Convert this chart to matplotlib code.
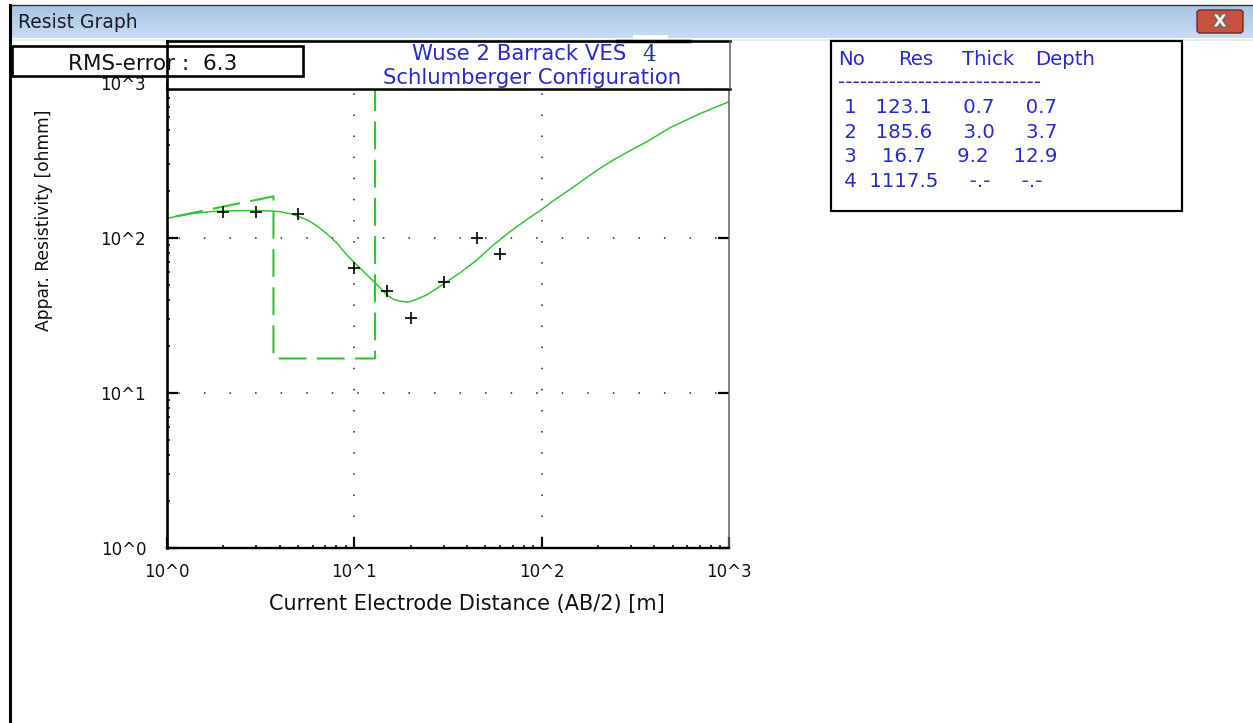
import numpy as np
import matplotlib
matplotlib.use('Agg')
import matplotlib.pyplot as plt
import matplotlib.patheffects as pe
from matplotlib.patches import Rectangle, FancyBboxPatch
from matplotlib.colors import LinearSegmentedColormap
from matplotlib.ticker import FixedLocator, FuncFormatter, LogLocator, NullFormatter

# field data (AB/2 in m, apparent resistivity in ohm-m)
ab2_obs = [2, 3, 5, 10, 15, 20, 30, 45, 60]
rho_obs = [147, 147, 143, 64, 45.5, 30.3, 52, 100, 79]

# computed model curve
ab2_model = [1.0, 1.17, 1.38, 1.7, 2.0, 2.45, 3.0, 3.55, 4.0, 4.7, 5.6, 6.3, 7.1,
             8.05, 9.1, 10.3, 11.65, 13.2, 14.9, 16.2, 17.5, 19.4, 21.5, 24.4,
             29.9, 36.7, 45, 55.2, 67.8, 82.2, 98, 115.5, 141.8, 167, 205, 241.5,
             296.5, 364, 485, 701, 1000]
rho_model = [134, 139, 144, 148, 149.5, 150, 150, 149.5, 148, 142, 131, 120, 107,
             93, 78, 67, 58, 50, 43, 40.2, 39.1, 38.6, 40.2, 43,
             50.5, 59.7, 72, 90, 110, 130, 150, 174, 206, 237, 282, 319,
             366, 418, 515, 635, 757]

# layer model table
table_headers = ['No', 'Res', 'Thick', 'Depth']
layer_no = [1, 2, 3, 4]
layer_res = [123.1, 185.6, 16.7, 1117.5]
layer_thick = [0.7, 3.0, 9.2, None]
layer_depth = [0.7, 3.7, 12.9, None]

rms_error = 6.3
title_lines = ['Wuse 2 Barrack VES', 'Schlumberger Configuration']
ves_no = '4'
window_title = 'Resist Graph'
axis_ticks = [1, 10, 100, 1000]

W, H = 1253, 723
GREEN = '#33c433'
BLUE = '#2a2acc'

plt.rcParams['font.family'] = 'DejaVu Sans'
plt.rcParams['lines.scale_dashes'] = False

fig = plt.figure(figsize=(W / 100, H / 100), dpi=100)
fig.patch.set_facecolor('white')


def pixel_axes(zorder):
    # full-figure axes working in screen pixels (y down)
    a = fig.add_axes([0, 0, 1, 1], zorder=zorder)
    a.axis('off')
    return a


def fix_limits(a):
    a.set_xlim(0, W)
    a.set_ylim(H, 0)


def fmt_cell(v):
    return '%8s' % '-.-' if v is None else '%8.1f' % v


# ---- window chrome ----
bg = pixel_axes(0)
grad = np.linspace(0, 1, 40).reshape(-1, 1)
bar_cmap = LinearSegmentedColormap.from_list('bar', ['#a9c4e4', '#c8dbf0'])
bg.imshow(grad, cmap=bar_cmap, extent=[10, W, 38, 5], aspect='auto')
bg.plot([12, W], [39.5, 39.5], color='#e2ecf7', lw=1.5)
bg.plot([10, W], [5, 5], color='#333333', lw=1)
bg.plot([10, 10], [5, H], color='black', lw=2.2)
bg.text(18, 28, window_title, fontsize=13.5, color='#1b1b2b', va='baseline')
bg.add_patch(FancyBboxPatch((1197, 10), 46, 23, boxstyle='round,pad=0,rounding_size=3',
                            fc='#c8503f', ec='#6e2b25', lw=1))
bg.text(1220, 21.5, 'X', ha='center', va='center', fontsize=12, fontweight='bold',
        color='#f2f2f2', path_effects=[pe.withStroke(linewidth=2, foreground='#6a6a6a')])
fix_limits(bg)

# ---- main log-log plot ----
ax = fig.add_axes([167 / W, 1 - 548 / H, 562 / W, 465 / H], zorder=1)
ax.set_xscale('log')
ax.set_yscale('log')

for v in axis_ticks[1:3]:
    ax.axhline(v, color='#222222', lw=1.1, ls=(10.2, (1.1, 17.3)), zorder=0.5)
    ax.axvline(v, color='#222222', lw=1.1, ls=(8.1, (1.1, 14.1)), zorder=0.5)

ax.plot(ab2_model, rho_model, color=GREEN, lw=1.1, zorder=2)

step_x = [layer_depth[0], layer_depth[1], layer_depth[1], layer_depth[2], layer_depth[2]]
step_y = [layer_res[0], layer_res[1], layer_res[2], layer_res[2], layer_res[3]]
ax.plot(step_x, step_y, color=GREEN, lw=1.5, dashes=(20, 7.5), zorder=2)

ax.plot(ab2_obs, rho_obs, ls='none', marker='+', ms=9, mew=1.2, color='black', zorder=4)

ax.set_xlim(1, 1000)
ax.set_ylim(1, 1000)

tick_fmt = FuncFormatter(lambda v, p: '10^%d' % round(np.log10(v)))
for axis in (ax.xaxis, ax.yaxis):
    axis.set_major_locator(FixedLocator(axis_ticks))
    axis.set_major_formatter(tick_fmt)
    axis.set_minor_locator(LogLocator(base=10, subs=np.arange(2, 10)))
    axis.set_minor_formatter(NullFormatter())

ax.tick_params(which='major', direction='in', length=8, width=1.6, labelsize=12,
               colors='black', labelcolor='#111111')
ax.tick_params(axis='x', which='major', pad=11, top=False)
ax.tick_params(axis='y', which='major', pad=15, right=True)
ax.tick_params(which='minor', direction='in', length=2.5, width=1.1, top=False, right=False)

ax.spines['left'].set_linewidth(1.9)
ax.spines['bottom'].set_linewidth(1.7)
ax.spines['right'].set_color('#606060')
ax.spines['right'].set_linewidth(1.1)
ax.spines['top'].set_visible(False)

ax.set_xlabel('Current Electrode Distance (AB/2) [m]', fontsize=15, color='#111111')
ax.xaxis.set_label_coords(0.533, -0.099)
ax.set_ylabel('Appar. Resistivity [ohmm]', fontsize=12.3, color='#111111')
ax.yaxis.set_label_coords(-0.203, 0.705)

# ---- overlay boxes and text ----
ov = pixel_axes(2)

ov.add_patch(Rectangle((167, 41), 563, 48, fc='white', ec='none'))
ov.plot([167, 730], [41, 41], color='black', lw=1.9)
ov.plot([167, 730], [89, 89], color='black', lw=1.8)
ov.plot([167, 167], [41, 89], color='black', lw=1.9)
ov.plot([730, 730], [41, 89], color='#606060', lw=1.1)
ov.text(519, 60, title_lines[0], ha='center', va='baseline', fontsize=15.3, color=BLUE)
ov.text(532.5, 83.5, title_lines[1], ha='center', va='baseline', fontsize=15.3, color=BLUE)

# stray label pasted over the title
ov.plot([617, 689], [41, 41], color='black', lw=2.5)
ov.add_patch(Rectangle((633, 34.5), 35, 5, fc='white', ec='none'))
ov.text(649, 61, ves_no, ha='center', va='baseline', family='DejaVu Serif',
        fontsize=15.5, color='#1f3a8a')

ov.add_patch(Rectangle((12, 46), 291, 30, fc='white', ec='black', lw=1.9))
ov.text(68, 70, 'RMS-error :  %.1f' % rms_error, fontsize=15.5, va='baseline', color='#111111')

ov.add_patch(Rectangle((831, 41), 351, 170, fc='white', ec='black', lw=1.6))
for name, x in zip(table_headers, [838, 898, 962, 1035]):
    ov.text(x, 65, name, fontsize=14.2, color=BLUE, va='baseline')
ov.text(838, 88, '-' * 28, fontsize=14.2, color=BLUE, va='baseline')
for i, (no, res, th, dp) in enumerate(zip(layer_no, layer_res, layer_thick, layer_depth)):
    row = '%2d %7.1f%s%s' % (no, res, fmt_cell(th), fmt_cell(dp))
    ov.text(838, 113.3 + 24.45 * i, row, fontsize=14.2, color=BLUE, va='baseline')

fix_limits(ov)

fig.savefig('out.png', dpi=100)
